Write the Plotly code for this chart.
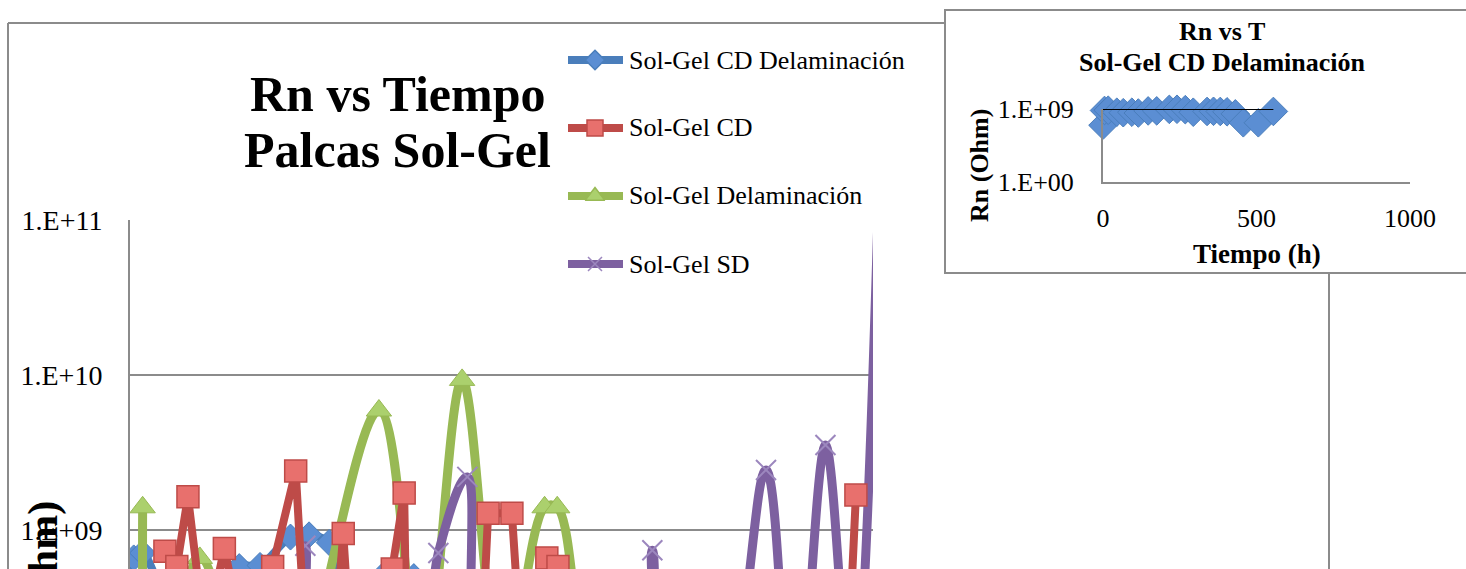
import plotly.graph_objects as go

W, H = 1466, 569

# ---- data: time (h) and noise resistance Rn (Ohm) ----
cd_delam_t = [0, 5, 17, 45, 66, 94, 115, 147, 175, 216, 241, 268, 294, 339, 360, 382, 404, 431, 457, 506, 555]
cd_delam_rn = [1.0e7, 6.6e8, 7.1e8, 4.0e8, 3.5e8, 4.0e8, 3.2e8, 5.8e8, 5.9e8, 9.0e8, 9.3e8, 8.3e8,
               4.0e8, 5.0e8, 5.2e8, 5.0e8, 4.5e8, 2.5e8, 2.0e7, 2.0e7, 5.0e8]

cd_t = [47, 63, 78, 101, 127, 148, 192, 223, 236, 276, 287, 296, 353, 369, 373, 474, 482, 514,
        525, 561, 576, 599, 767, 968, 977]
cd_rn = [7.3e8, 5.8e8, 1.64e9, 2.0e8, 7.6e8, 2.5e8, 5.8e8, 2.4e9, 2.0e8, 2.0e8, 9.5e8, 2.0e8,
         5.6e8, 1.73e9, 1.0e8, 2.0e8, 1.28e9, 1.28e9, 2.0e8, 6.6e8, 5.8e8, 1.6e8, 1.0e8, 2.0e8, 1.68e9]

delam_t = [17, 30, 94, 188, 335, 393, 447, 502, 558, 575, 646, 767]
delam_rn = [1.4e9, 3.2e7, 6.6e8, 3.2e7, 5.9e9, 1.0e8, 9.3e9, 1.0e8, 1.4e9, 1.4e9, 3.2e7, 1.6e7]

sd_t = [0, 213, 236, 258, 377, 415, 454, 491, 680, 703, 727, 794, 856, 894, 936, 972, 1009]
sd_rn = [1.0e8, 4.0e7, 7.9e8, 4.0e7, 4.0e7, 7.1e8, 2.2e9, 3.2e7, 4.0e7, 7.4e8, 4.0e7, 6.3e7,
         2.44e9, 3.2e7, 3.53e9, 6.3e7, 2.5e11]

trend_t = [0, 555]
trend_rn = [1.0e9, 1.0e9]

series_names = ["Sol-Gel CD Delaminación", "Sol-Gel CD", "Sol-Gel Delaminación", "Sol-Gel SD"]
main_ticks = [1e9, 1e10, 1e11]
main_ticktext = ["1.E+09", "1.E+10", "1.E+11"]
inset_yticks = [1, 1e9]
inset_yticktext = ["1.E+00", "1.E+09"]
inset_xticks = [0, 500, 1000]

# ---- styling ----
FONT = "Liberation Serif"
GRID = "#8B8B8B"
BLUE_LINE, BLUE_FILL = "#4A7EBB", "#5B8ED3"
RED_LINE, RED_FILL = "#BE4B48", "#E8706D"
GREEN_LINE, GREEN_FILL = "#98B954", "#ABD06D"
PURPLE_LINE, PURPLE_MARK = "#7D60A0", "#9C87BE"


def xp(px):
    return px / W


def yp(py):
    return 1 - py / H


fig = go.Figure()

# main chart series
fig.add_trace(go.Scatter(
    x=cd_delam_t, y=cd_delam_rn, mode="lines+markers", name=series_names[0],
    line=dict(color=BLUE_LINE, width=8, shape="spline", smoothing=1.0),
    marker=dict(symbol="diamond", size=20, color=BLUE_FILL, line=dict(color=BLUE_LINE, width=1)),
    xaxis="x", yaxis="y"))
fig.add_trace(go.Scatter(
    x=delam_t, y=delam_rn, mode="lines+markers", name=series_names[2],
    line=dict(color=GREEN_LINE, width=9, shape="spline", smoothing=1.0),
    marker=dict(symbol="triangle-up", size=22, color=GREEN_FILL, line=dict(color=GREEN_LINE, width=1)),
    xaxis="x", yaxis="y"))
fig.add_trace(go.Scatter(
    x=sd_t, y=sd_rn, mode="lines+markers", name=series_names[3],
    line=dict(color=PURPLE_LINE, width=9, shape="spline", smoothing=1.0),
    marker=dict(symbol="x-thin-open", size=20, color=PURPLE_MARK, line=dict(color=PURPLE_MARK, width=2)),
    xaxis="x", yaxis="y"))
fig.add_trace(go.Scatter(
    x=cd_t, y=cd_rn, mode="lines+markers", name=series_names[1],
    line=dict(color=RED_LINE, width=8),
    marker=dict(symbol="square", size=22, color=RED_FILL, line=dict(color=RED_LINE, width=1.5)),
    xaxis="x", yaxis="y"))

# inset chart: CD delamination only
fig.add_trace(go.Scatter(
    x=cd_delam_t, y=cd_delam_rn, mode="lines+markers", cliponaxis=False,
    line=dict(color=BLUE_LINE, width=6, shape="spline", smoothing=0.6),
    marker=dict(symbol="diamond", size=22, color=BLUE_FILL, line=dict(color=BLUE_LINE, width=1)),
    xaxis="x2", yaxis="y2"))
fig.add_trace(go.Scatter(
    x=trend_t, y=trend_rn, mode="lines", cliponaxis=False,
    line=dict(color="black", width=2), xaxis="x2", yaxis="y2"))

# legend keys (pixel overlay axes)
legend_styles = [
    (BLUE_LINE, "diamond", BLUE_FILL, 15),
    (RED_LINE, "square", RED_FILL, 16),
    (GREEN_LINE, "triangle-up", GREEN_FILL, 17),
    (PURPLE_LINE, "x-thin-open", PURPLE_MARK, 14),
]
LEG_Y0, LEG_DY = 60, 68
shapes = []
annotations = []
for i, (lc, sym, fc, sz) in enumerate(legend_styles):
    ly = LEG_Y0 + LEG_DY * i
    shapes.append(dict(type="line", xref="paper", yref="paper", x0=xp(568), x1=xp(623),
                       y0=yp(ly), y1=yp(ly), line=dict(color=lc, width=8), layer="below"))
    fig.add_trace(go.Scatter(
        x=[595], y=[ly], mode="markers", cliponaxis=False,
        marker=dict(symbol=sym, size=sz, color=fc, line=dict(color=lc if sym != "x-thin-open" else fc, width=1.5)),
        xaxis="x3", yaxis="y3"))
    annotations.append(dict(xref="paper", yref="paper", x=xp(627), y=yp(ly), xanchor="left", yanchor="middle",
                            text=series_names[i], showarrow=False, font=dict(family=FONT, size=26, color="black")))

# frames
frame = dict(color=GRID, width=2)
shapes += [
    dict(type="line", xref="paper", yref="paper", x0=xp(8), x1=xp(8), y0=yp(23), y1=yp(620), line=frame, layer="below"),
    dict(type="line", xref="paper", yref="paper", x0=xp(8), x1=xp(945), y0=yp(23), y1=yp(23), line=frame, layer="below"),
    dict(type="line", xref="paper", yref="paper", x0=xp(1329), x1=xp(1329), y0=yp(273), y1=yp(620), line=frame, layer="below"),
    dict(type="rect", xref="paper", yref="paper", x0=xp(945), x1=xp(1490), y0=yp(10), y1=yp(273), line=frame, layer="below"),
]

# titles
annotations += [
    dict(xref="paper", yref="paper", x=xp(397), y=yp(94), text="<b>Rn vs Tiempo</b>", showarrow=False,
         xanchor="center", yanchor="middle", font=dict(family=FONT, size=50, color="black")),
    dict(xref="paper", yref="paper", x=xp(397), y=yp(150), text="<b>Palcas Sol-Gel</b>", showarrow=False,
         xanchor="center", yanchor="middle", font=dict(family=FONT, size=50, color="black")),
    dict(xref="paper", yref="paper", x=xp(43), y=yp(593), text="<b>Rn (Ohm)</b>", showarrow=False, textangle=-90,
         xanchor="center", yanchor="middle", font=dict(family=FONT, size=42, color="black")),
    dict(xref="paper", yref="paper", x=xp(1222), y=yp(31), text="<b>Rn vs T</b>", showarrow=False,
         xanchor="center", yanchor="middle", font=dict(family=FONT, size=26, color="black")),
    dict(xref="paper", yref="paper", x=xp(1222), y=yp(63), text="<b>Sol-Gel CD Delaminación</b>", showarrow=False,
         xanchor="center", yanchor="middle", font=dict(family=FONT, size=26, color="black")),
    dict(xref="paper", yref="paper", x=xp(979), y=yp(165), text="<b>Rn (Ohm)</b>", showarrow=False, textangle=-90,
         xanchor="center", yanchor="middle", font=dict(family=FONT, size=26, color="black")),
    dict(xref="paper", yref="paper", x=xp(1257), y=yp(254), text="<b>Tiempo (h)</b>", showarrow=False,
         xanchor="center", yanchor="middle", font=dict(family=FONT, size=27, color="black")),
]

fig.update_layout(
    width=W, height=H,
    margin=dict(l=0, r=0, t=0, b=0, autoexpand=False),
    paper_bgcolor="white", plot_bgcolor="rgba(0,0,0,0)",
    showlegend=False,
    font=dict(family=FONT, color="black"),
    shapes=shapes, annotations=annotations,
    xaxis=dict(domain=[xp(130), xp(873)], range=[0, 1000], visible=False, anchor="y"),
    yaxis=dict(domain=[0, yp(220)], type="log", range=[8.748, 11.0005], anchor="x",
               tickvals=main_ticks, ticktext=main_ticktext, ticks="",
               showline=True, linecolor=GRID, linewidth=2,
               showgrid=True, gridcolor=GRID, gridwidth=2, zeroline=False,
               tickfont=dict(family=FONT, size=28, color="black"), ticklabelstandoff=20),
    xaxis2=dict(domain=[xp(1103), xp(1410)], range=[0, 1000], anchor="y2",
                tickvals=inset_xticks, ticks="", showline=True, linecolor=GRID, linewidth=2,
                showgrid=False, zeroline=False,
                tickfont=dict(family=FONT, size=26, color="black"), ticklabelstandoff=12),
    yaxis2=dict(domain=[yp(182), yp(109)], type="log", range=[0, 9.0005], anchor="x2",
                tickvals=inset_yticks, ticktext=inset_yticktext, ticks="",
                showline=True, linecolor=GRID, linewidth=2, showgrid=False, zeroline=False,
                tickfont=dict(family=FONT, size=26, color="black"), ticklabelstandoff=22),
    xaxis3=dict(domain=[0, 1], range=[0, W], visible=False, anchor="y3"),
    yaxis3=dict(domain=[0, 1], range=[H, 0], visible=False, anchor="x3"),
)

fig.write_html("out.html")
